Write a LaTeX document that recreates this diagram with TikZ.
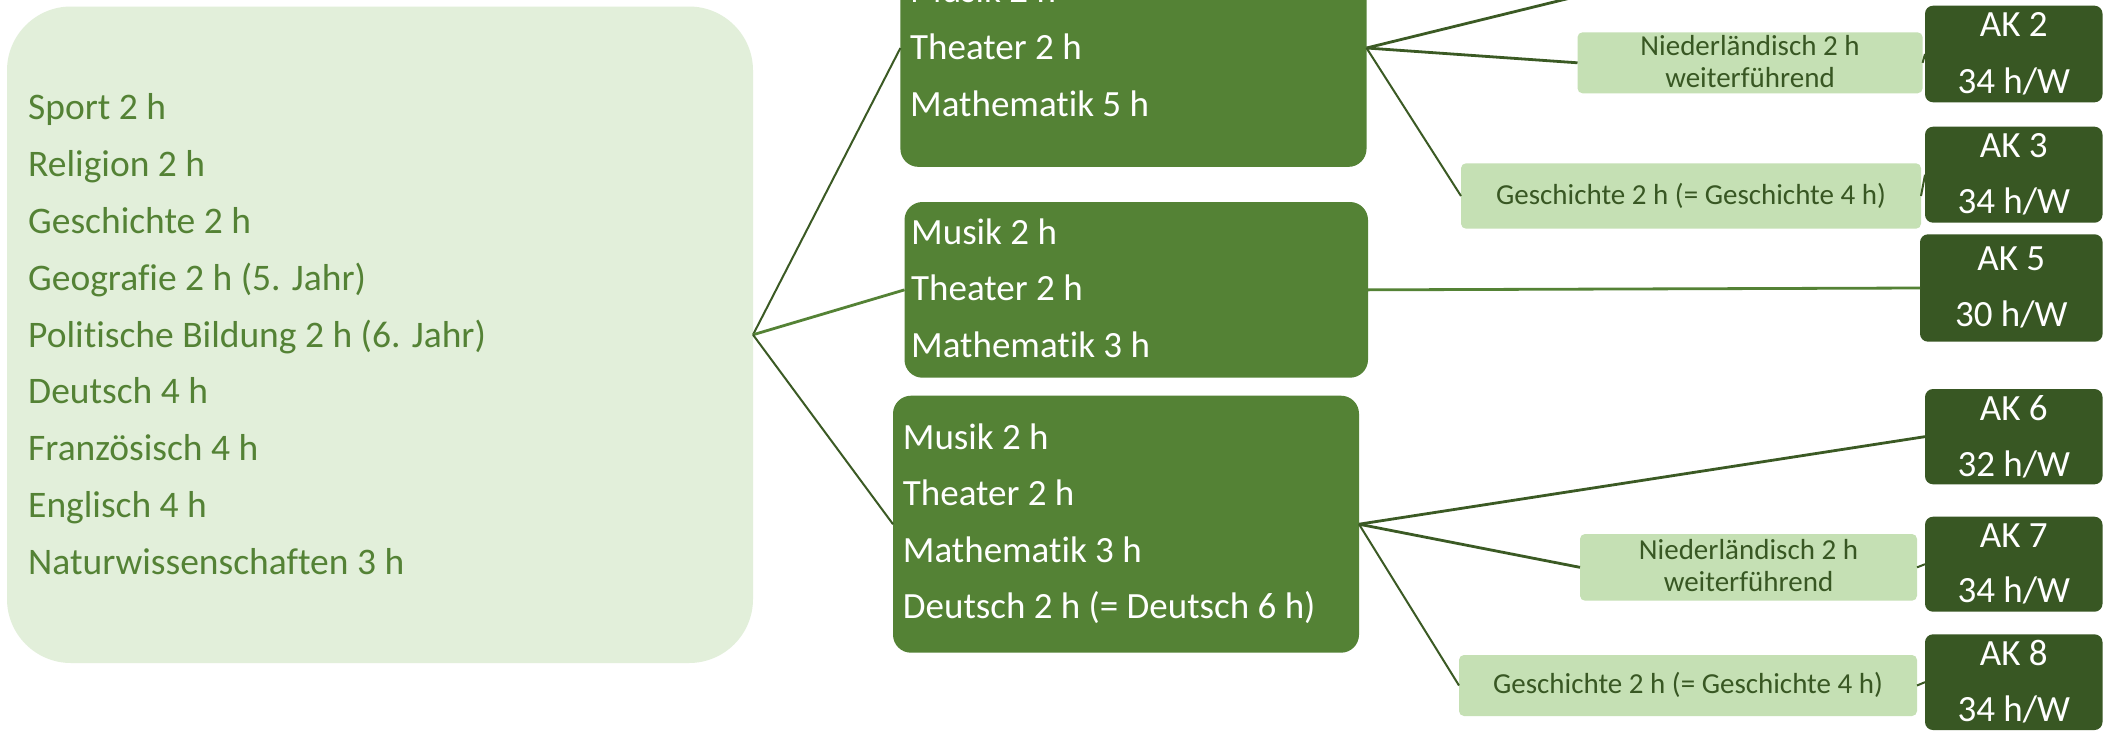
\documentclass[tikz,border=0pt]{standalone}
\usepackage{fontspec}
\setmainfont{Carlito}[Ligatures=NoCommon]
\definecolor{lightbg}{HTML}{E2EFDA}
\definecolor{midgreen}{HTML}{548235}
\definecolor{darkgreen}{HTML}{385723}
\definecolor{palegreen}{HTML}{C5E0B4}
\definecolor{linedark}{HTML}{3B5A24}
\begin{document}
\begin{tikzpicture}[x=1pt,y=-1pt,
  boxbase/.style={rectangle,inner sep=0pt,outer sep=0pt,draw=none},
  leftbox/.style={boxbase,fill=lightbg,rounded corners=64pt},
  midbox/.style={boxbase,fill=midgreen,rounded corners=18pt},
  smallbox/.style={boxbase,fill=palegreen,rounded corners=5pt},
  akbox/.style={boxbase,fill=darkgreen,rounded corners=8pt},
  lefttxt/.style={inner sep=0pt,anchor=base west,text=midgreen,font=\fontsize{37.5}{45}\selectfont},
  midtxt/.style={inner sep=0pt,anchor=base west,text=white,font=\fontsize{37}{45}\selectfont},
  aktxt/.style={inner sep=0pt,anchor=base,text=white,font=\fontsize{37}{45}\selectfont},
  smalltxt/.style={inner sep=0pt,anchor=base,text=darkgreen,font=\fontsize{29}{35}\selectfont},
  conn/.style={draw=linedark,line width=2pt},
  connthick/.style={draw=linedark,line width=2.8pt},
  connlight/.style={draw=midgreen,line width=2.8pt}
]
\useasboundingbox (0,0) rectangle (2109,731);
\clip (0,0) rectangle (2109,731);
\fill[white] (0,0) rectangle (2109,731);

% left box
\node[leftbox,minimum width=746pt,minimum height=656.5pt] (left) at (380,334.75) {};
\foreach \t [count=\i] in {Sport 2 h,Religion 2 h,Geschichte 2 h,Geografie 2 h (5. Jahr),Politische Bildung 2 h (6. Jahr),Deutsch 4 h,Französisch 4 h,Englisch 4 h,Naturwissenschaften 3 h}
  \node[lefttxt] (l\i) at (28,{119.2+56.95*(\i-1)}) {\t};

% middle boxes
\node[midbox,minimum width=466.1pt,minimum height=237.7pt] (A) at (1133.45,48) {};
\node[midtxt] (a1) at (910,2.6) {Musik 2 h};
\node[midtxt] (a2) at (910,59.3) {Theater 2 h};
\node[midtxt] (a3) at (910,116) {Mathematik 5 h};

\node[midbox,minimum width=463.5pt,minimum height=175.7pt] (B) at (1136.25,289.85) {};
\node[midtxt] (b1) at (911,244) {Musik 2 h};
\node[midtxt] (b2) at (911,300) {Theater 2 h};
\node[midtxt] (b3) at (911,357.3) {Mathematik 3 h};

\node[midbox,minimum width=466pt,minimum height=257pt] (C) at (1126,524.2) {};
\node[midtxt] (c1) at (902.7,449) {Musik 2 h};
\node[midtxt] (c2) at (902.7,505) {Theater 2 h};
\node[midtxt] (c3) at (902.7,562.7) {Mathematik 3 h};
\node[midtxt] (c4) at (902.7,618.3) {Deutsch 2 h (= Deutsch 6 h)};

% small boxes
\node[smallbox,minimum width=345.1pt,minimum height=61pt] (n1) at (1750.05,62.8) {};
\node[smalltxt] (n1a) at (1750,55) {Niederländisch 2 h};
\node[smalltxt] (n1b) at (1750,87.3) {weiterführend};
\node[smallbox,minimum width=460pt,minimum height=65.4pt] (g1) at (1691,196) {};
\node[smalltxt] (g1a) at (1691,204) {Geschichte 2 h (= Geschichte 4 h)};
\node[smallbox,minimum width=337pt,minimum height=66.7pt] (n2) at (1748.5,567.35) {};
\node[smalltxt] (n2a) at (1748.5,559.3) {Niederländisch 2 h};
\node[smalltxt] (n2b) at (1748.5,591.7) {weiterführend};
\node[smallbox,minimum width=458pt,minimum height=61pt] (g2) at (1688,685.5) {};
\node[smalltxt] (g2a) at (1688,693.3) {Geschichte 2 h (= Geschichte 4 h)};

% AK boxes
\node[akbox,minimum width=177.5pt,minimum height=96.6pt] (ak2) at (2013.75,54) {};
\node[aktxt] (ak2a) at (2013.75,36.5) {AK 2};
\node[aktxt] (ak2b) at (2013.75,93) {34 h/W};
\node[akbox,minimum width=177.5pt,minimum height=96pt] (ak3) at (2013.75,174.7) {};
\node[aktxt] (ak3a) at (2013.75,157.7) {AK 3};
\node[aktxt] (ak3b) at (2013.75,213.3) {34 h/W};
\node[akbox,minimum width=182.6pt,minimum height=107.4pt] (ak5) at (2011.3,288) {};
\node[aktxt] (ak5a) at (2011.3,270) {AK 5};
\node[aktxt] (ak5b) at (2011.3,326) {30 h/W};
\node[akbox,minimum width=177.5pt,minimum height=95.3pt] (ak6) at (2013.75,436.65) {};
\node[aktxt] (ak6a) at (2013.75,420) {AK 6};
\node[aktxt] (ak6b) at (2013.75,476) {32 h/W};
\node[akbox,minimum width=177.5pt,minimum height=95pt] (ak7) at (2013.75,564.2) {};
\node[aktxt] (ak7a) at (2013.75,547.7) {AK 7};
\node[aktxt] (ak7b) at (2013.75,602.7) {34 h/W};
\node[akbox,minimum width=177.5pt,minimum height=95.7pt] (ak8) at (2013.75,682.15) {};
\node[aktxt] (ak8a) at (2013.75,665) {AK 8};
\node[aktxt] (ak8b) at (2013.75,721.7) {34 h/W};

\coordinate (ak1) at (1925,-89);

% connectors
\draw[conn] (left.east) -- (A.west);
\draw[connlight] (left.east) -- (B.west);
\draw[conn] (left.east) -- (C.west);

\draw[connthick] (A.east) -- (ak1);
\draw[connthick] (A.east) -- (n1.west);
\draw[conn] (A.east) -- (g1.west);
\draw[conn] (n1.east) -- (ak2.west);
\draw[conn] (g1.east) -- (ak3.west);

\draw[connlight] (B.east) -- (ak5.west);

\draw[connthick] (C.east) -- (ak6.west);
\draw[connthick] (C.east) -- (n2.west);
\draw[conn] (C.east) -- (g2.west);
\draw[conn] (n2.east) -- (ak7.west);
\draw[conn] (g2.east) -- (ak8.west);
\end{tikzpicture}
\end{document}
